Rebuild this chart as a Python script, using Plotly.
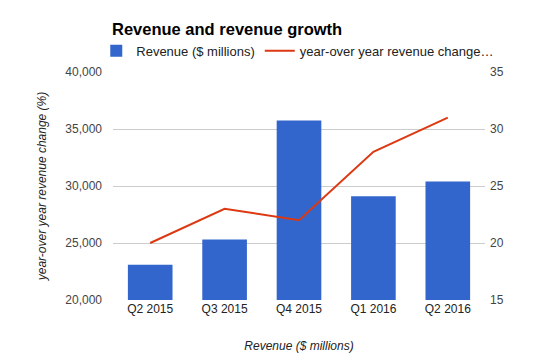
import plotly.graph_objects as go

quarters = ["Q2 2015", "Q3 2015", "Q4 2015", "Q1 2016", "Q2 2016"]
revenue = [23100, 25300, 35750, 29100, 30400]
growth = [20, 23, 22, 28, 31]
left_ticks = [20000, 25000, 30000, 35000, 40000]
right_ticks = [15, 20, 25, 30, 35]

FONT = "Liberation Sans, Arial, sans-serif"

fig = go.Figure()
fig.add_trace(go.Bar(
    x=quarters, y=revenue, name="Revenue ($ millions)",
    marker=dict(color="#3366CC", line=dict(width=0)),
    yaxis="y",
))
fig.add_trace(go.Scatter(
    x=quarters, y=growth, name="year-over year revenue change\u2026",
    mode="lines", line=dict(color="#DC3912", width=2),
    yaxis="y2",
))

fig.update_layout(
    width=554, height=355,
    margin=dict(l=105, r=77, t=64, b=63, autoexpand=False),
    paper_bgcolor="white", plot_bgcolor="white",
    font=dict(family=FONT, size=12, color="#444"),
    bargap=0.4,
    showlegend=True,
    title=dict(
        text="<b>Revenue and revenue growth</b>",
        font=dict(family=FONT, size=16.5, color="#000"),
        x=104 / 554, xanchor="left", xref="container",
        y=1 - 21 / 355, yanchor="middle", yref="container",
    ),
    legend=dict(
        orientation="h", x=-0.045, xanchor="left", y=1.093, yanchor="middle",
        font=dict(family=FONT, size=13, color="#222"),
        bgcolor="rgba(0,0,0,0)", itemwidth=30, tracegroupgap=0,
    ),
    xaxis=dict(
        showgrid=False, showline=False, ticks="",
        tickfont=dict(size=12, color="#222"),
        title=dict(text="<i>Revenue ($ millions)</i>", font=dict(size=12, color="#222"), standoff=26),
        zeroline=False,
    ),
    yaxis=dict(
        range=[20000, 40000], tickvals=left_ticks, tickformat=",d",
        gridcolor="#CCCCCC", gridwidth=1, showline=False, zeroline=False, ticks="",
        tickfont=dict(size=12, color="#444"),
        ticklabelstandoff=10,
        title=dict(text="<i>year-over year revenue change (%)</i>", font=dict(size=12, color="#222"), standoff=16),
    ),
    yaxis2=dict(
        range=[15, 35], tickvals=right_ticks, overlaying="y", side="right",
        showgrid=False, showline=False, zeroline=False, ticks="",
        tickfont=dict(size=12, color="#444"),
        ticklabelstandoff=4,
    ),
)

fig.write_html("out.html")
